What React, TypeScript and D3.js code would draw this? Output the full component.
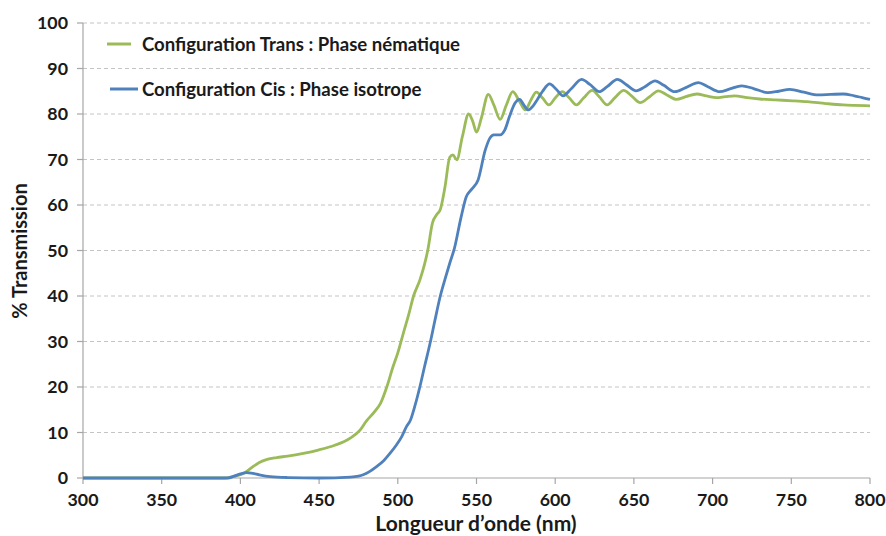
import { scaleLinear, line, curveMonotoneX, range } from 'd3';

const transWave = [300, 350, 390, 395, 400, 403, 408, 412, 417, 423, 430, 440, 450, 460, 466, 470, 476, 480, 485, 489, 493, 497, 500, 503.5, 507, 510, 514, 517, 519, 522, 525, 527, 530, 533, 535, 537.5, 541, 545, 547.5, 550, 553, 557.5, 561, 565, 569, 573, 577, 581, 584.5, 588, 592, 596, 600, 604.5, 609, 613.5, 618, 623.5, 628, 633, 638, 643.5, 648.5, 654, 660, 665.5, 671, 677, 683, 690, 696, 702.5, 708, 714, 722, 730, 740, 751, 760, 772, 783, 790, 800];
const transValues = [0, 0, 0, 0.3, 0.7, 1.2, 2.5, 3.4, 4.1, 4.5, 4.8, 5.4, 6.2, 7.2, 8, 8.8, 10.5, 12.5, 14.5, 16.4, 20, 24.5, 27.5, 31.8, 36, 40, 43.5, 47, 50, 56, 58, 59, 64, 70.5, 71, 69.9, 75, 80, 78.5, 76, 79, 84.3, 82, 78.8, 82, 84.9, 83, 80.9, 83, 84.8, 83.5, 82, 83.5, 84.9, 83.5, 82, 83.5, 85.2, 83.8, 82, 83.6, 85.2, 84, 82.5, 83.8, 85.1, 84.2, 83.2, 83.8, 84.4, 84, 83.6, 83.8, 84, 83.6, 83.3, 83.1, 82.9, 82.7, 82.3, 82, 81.9, 81.8];

const cisWave = [300, 350, 392, 396, 400, 404, 408, 412, 419, 430, 450, 470, 475, 478, 482, 486.5, 491, 495, 499, 502.5, 505.5, 508, 511, 514, 517, 520.5, 523.5, 527, 530, 533, 536, 540, 543.5, 547, 551, 555.5, 558.5, 561, 565, 568, 571, 574.5, 577.5, 580, 583, 586, 588.5, 592, 596.5, 600.5, 605, 610, 616.8, 622, 628, 633, 639.5, 645, 651.5, 657, 663.5, 669, 676, 683, 691, 697, 704.5, 711, 718.5, 726, 735, 742, 749, 758, 767, 775, 783, 790, 795, 800];
const cisValues = [0, 0, 0, 0.4, 0.9, 1.2, 1.0, 0.7, 0.3, 0.1, 0, 0.2, 0.4, 0.7, 1.4, 2.5, 3.8, 5.4, 7.2, 9.1, 11.3, 12.7, 16, 20, 24.5, 29.6, 34.5, 40, 43.7, 47.2, 50.5, 57, 61.8, 63.5, 65.5, 72, 74.7, 75.4, 75.4, 76.5, 79.5, 82.4, 83.2, 82, 80.9, 81.8, 83.1, 85, 86.6, 85.5, 84, 85.5, 87.6, 86.5, 84.9, 86, 87.6, 86.5, 85.1, 86, 87.3, 86.3, 84.9, 85.8, 86.9, 86, 84.9, 85.5, 86.2, 85.6, 84.7, 85, 85.4, 84.8, 84.2, 84.3, 84.4, 84, 83.6, 83.2];

const xTicks = range(300, 801, 50);
const yTicks = range(0, 101, 10);

const legendItems = [
  { label: 'Configuration Trans : Phase nématique', color: '#9bbb59' },
  { label: 'Configuration Cis : Phase isotrope', color: '#4f81bd' },
];

const width = 886;
const height = 536;
const margin = { top: 23, right: 16, bottom: 58, left: 83 };
const font = 'Lato, "Open Sans", sans-serif';

export default function App() {
  const x = scaleLinear().domain([300, 800]).range([margin.left, width - margin.right]);
  const y = scaleLinear().domain([0, 100]).range([height - margin.bottom, margin.top]);

  // monotone keeps the flat 0 baseline from dipping below the axis
  const path = line<[number, number]>()
    .x(d => x(d[0]))
    .y(d => y(d[1]))
    .curve(curveMonotoneX);

  const transPts = transWave.map((w, i) => [w, transValues[i]] as [number, number]);
  const cisPts = cisWave.map((w, i) => [w, cisValues[i]] as [number, number]);

  const x0 = x(300);
  const y0 = y(0);

  return (
    <div style={{ position: 'fixed', left: 0, top: 0 }}>
      <svg width={width} height={height} style={{ display: 'block', background: '#fff' }} fontFamily={font}>
        {yTicks.filter(t => t > 0).map(t => (
          <line key={t} x1={x0} x2={x(800)} y1={y(t)} y2={y(t)} stroke="#c4c4c4" strokeWidth={1} strokeDasharray="4 3" />
        ))}

        {/* axes */}
        <line x1={x0} x2={x0} y1={y(100)} y2={y0} stroke="#a6a6a6" strokeWidth={1.2} />
        <line x1={x0} x2={x(800)} y1={y0} y2={y0} stroke="#a6a6a6" strokeWidth={1.2} />
        {yTicks.map(t => (
          <g key={t}>
            <line x1={x0 - 6} x2={x0} y1={y(t)} y2={y(t)} stroke="#a6a6a6" strokeWidth={1.2} />
            <text x={68} y={y(t)} dy="0.35em" textAnchor="end" fontSize={17.8} fontWeight={700} fill="#1a1a1a">{t}</text>
          </g>
        ))}
        {xTicks.map(t => (
          <g key={t}>
            <line x1={x(t)} x2={x(t)} y1={y0} y2={y0 + 6} stroke="#a6a6a6" strokeWidth={1.2} />
            <text x={x(t)} y={505.5} textAnchor="middle" fontSize={17.8} fontWeight={700} fill="#1a1a1a">{t}</text>
          </g>
        ))}

        <text x={476} y={531} textAnchor="middle" fontSize={21} fontWeight={700} fill="#1a1a1a">Longueur d’onde (nm)</text>
        <text transform="translate(27,251) rotate(-90)" textAnchor="middle" fontSize={20} fontWeight={700} fill="#1a1a1a">% Transmission</text>

        <path d={path(transPts) ?? ''} fill="none" stroke="#9bbb59" strokeWidth={2.8} strokeLinejoin="round" />
        <path d={path(cisPts) ?? ''} fill="none" stroke="#4f81bd" strokeWidth={2.8} strokeLinejoin="round" />

        {legendItems.map((item, i) => (
          <g key={item.label} transform={`translate(0, ${44 + i * 45})`}>
            <line x1={i === 0 ? 107 : 110} x2={i === 0 ? 131 : 138} y1={0} y2={0} stroke={item.color} strokeWidth={3} />
            <text x={142} y={0} dy="0.35em" fontSize={18.6} fontWeight={700} fill="#1a1a1a">{item.label}</text>
          </g>
        ))}
      </svg>
    </div>
  );
}
